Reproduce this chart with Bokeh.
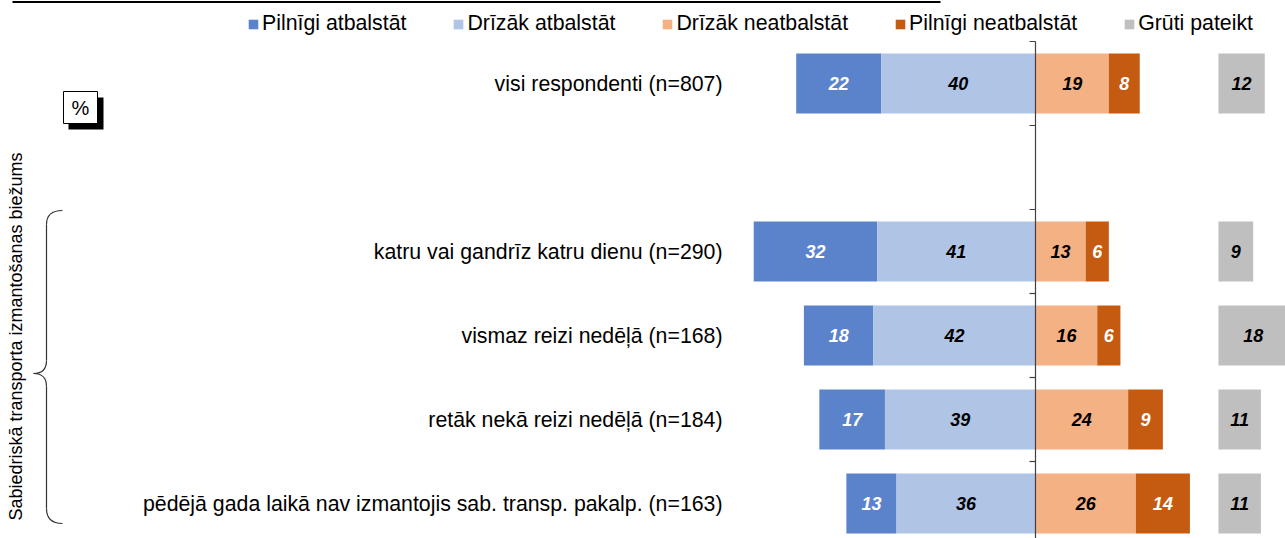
import math
from bokeh.plotting import figure
from bokeh.models import Range1d, Legend, LegendItem, ColumnDataSource
from bokeh.core.properties import value
from bokeh.embed import file_html
from bokeh.resources import INLINE

# ---------------- data ----------------
categories = [
    "visi respondenti (n=807)",
    "",
    "katru vai gandrīz katru dienu (n=290)",
    "vismaz reizi nedēļā (n=168)",
    "retāk nekā reizi nedēļā (n=184)",
    "pēdējā gada laikā nav izmantojis sab. transp. pakalp. (n=163)",
]
series_names = ["Pilnīgi atbalstāt", "Drīzāk atbalstāt", "Drīzāk neatbalstāt",
                "Pilnīgi neatbalstāt", "Grūti pateikt"]
pilnigi_atbalstat = [22, None, 32, 18, 17, 13]
drizak_atbalstat = [40, None, 41, 42, 39, 36]
drizak_neatbalstat = [19, None, 13, 16, 24, 26]
pilnigi_neatbalstat = [8, None, 6, 6, 9, 14]
gruti_pateikt = [12, None, 9, 18, 11, 11]
side_title = "Sabiedriskā transporta izmantošanas biežums"
unit_label = "%"

# ---------------- styling ----------------
W, H = 1285, 538
ZERO_PX = 1035.0      # pixel x of the 0 line
PX_PER_UNIT = 3.86    # pixels per percentage point
ROW_TOP_PX = 41.0     # pixel y of the first row boundary
ROW_PX = 84.0         # pixels per row
GRAY_OFFSET = 47.4    # where the "Grūti pateikt" bars start
BAR_H = 0.715

C_DARK_BLUE = "#5B83CB"
C_LIGHT_BLUE = "#B0C4E6"
C_LIGHT_OR = "#F4B183"
C_DARK_OR = "#C55A11"
C_GRAY = "#BFBFBF"
FONT = "Liberation Sans"


def X(px):
    return (px - ZERO_PX) / PX_PER_UNIT


def Y(py):
    return (py - ROW_TOP_PX) / ROW_PX


p = figure(width=W, height=H, output_backend="svg", toolbar_location=None,
           x_range=Range1d(X(0), X(W)), y_range=Range1d(Y(H), Y(0)),
           x_axis_type=None, y_axis_type=None, min_border=0,
           outline_line_color=None)
p.grid.visible = False
p.background_fill_color = "white"
p.border_fill_color = "white"

rows = [i for i, v in enumerate(pilnigi_atbalstat) if v is not None]
yc = [i + 0.5 for i in rows]
pa = [pilnigi_atbalstat[i] for i in rows]
da = [drizak_atbalstat[i] for i in rows]
dn = [drizak_neatbalstat[i] for i in rows]
pn = [pilnigi_neatbalstat[i] for i in rows]
gp = [gruti_pateikt[i] for i in rows]

segs = [
    ([-(a + b) for a, b in zip(pa, da)], [-b for b in da], pa, C_DARK_BLUE, "white"),
    ([-b for b in da], [0] * len(da), da, C_LIGHT_BLUE, "black"),
    ([0] * len(dn), dn, dn, C_LIGHT_OR, "black"),
    (dn, [a + b for a, b in zip(dn, pn)], pn, C_DARK_OR, "white"),
    ([GRAY_OFFSET] * len(gp), [GRAY_OFFSET + g for g in gp], gp, C_GRAY, "black"),
]

renderers = []
for left, right, vals, color, tcolor in segs:
    src = ColumnDataSource(dict(y=yc, left=left, right=right,
                                mid=[(l + r) / 2 for l, r in zip(left, right)],
                                lab=[str(v) for v in vals]))
    r = p.hbar(y="y", left="left", right="right", height=BAR_H, source=src,
               fill_color=color, line_color=None)
    renderers.append(r)
    p.text(x="mid", y="y", text="lab", source=src, text_align="center",
           text_baseline="middle", text_color=tcolor, text_font=value(FONT),
           text_font_size="18px", text_font_style="bold italic")

# category labels
lab_src = ColumnDataSource(dict(x=[X(722)] * len(categories),
                                y=[i + 0.5 for i in range(len(categories))],
                                t=categories))
p.text(x="x", y="y", text="t", source=lab_src, text_align="right",
       text_baseline="middle", text_color="black", text_font=value(FONT),
       text_font_size="21.3px")

# zero axis line and ticks
n_rows = len(categories)
p.segment(x0=[0], y0=[0], x1=[0], y1=[Y(H)], line_color="#404040", line_width=1.2)
p.segment(x0=[X(ZERO_PX - 6)] * (n_rows + 1), y0=list(range(n_rows + 1)),
          x1=[0] * (n_rows + 1), y1=list(range(n_rows + 1)),
          line_color="#404040", line_width=1.2)

# top rule (underline of cropped title)
p.segment(x0=[X(12)], y0=[Y(1.5)], x1=[X(940)], y1=[Y(1.5)],
          line_color="black", line_width=2)

# "%" box with shadow
p.quad(left=[X(68)], right=[X(103)], top=[Y(97)], bottom=[Y(129)],
       fill_color="black", line_color=None)
p.quad(left=[X(63)], right=[X(97)], top=[Y(91)], bottom=[Y(123)],
       fill_color="white", line_color="black", line_width=1)
p.text(x=[X(80)], y=[Y(107.5)], text=[unit_label], text_align="center",
       text_baseline="middle", text_color="black", text_font=value(FONT),
       text_font_size="20px")

# side title (rotated)
p.text(x=[X(15)], y=[Y(336)], text=[side_title], angle=math.pi / 2,
       text_align="center", text_baseline="middle", text_color="black",
       text_font=value(FONT), text_font_size="18px")

# brace
bc = "#333333"
p.quadratic(x0=[X(62), X(46), X(33), X(46)],
            y0=[Y(210), Y(360), Y(373), Y(508)],
            x1=[X(46), X(33), X(46), X(62)],
            y1=[Y(224), Y(373), Y(386), Y(523)],
            cx=[X(46), X(46), X(46), X(46)],
            cy=[Y(210), Y(373), Y(373), Y(523)],
            line_color=bc, line_width=1.2)
p.segment(x0=[X(46), X(46)], y0=[Y(224), Y(386)], x1=[X(46), X(46)],
          y1=[Y(360), Y(508)], line_color=bc, line_width=1.2)

legend = Legend(items=[LegendItem(label=n, renderers=[r])
                       for n, r in zip(series_names, renderers)],
                orientation="horizontal", location=(247, H - 36),
                glyph_width=12, glyph_height=12, label_standoff=3, spacing=46,
                padding=0, margin=0, border_line_color=None,
                background_fill_alpha=0, label_text_font=FONT,
                label_text_font_size="21.3px", label_text_color="black")
p.add_layout(legend)

open("out.html", "w").write(file_html(p, INLINE))
